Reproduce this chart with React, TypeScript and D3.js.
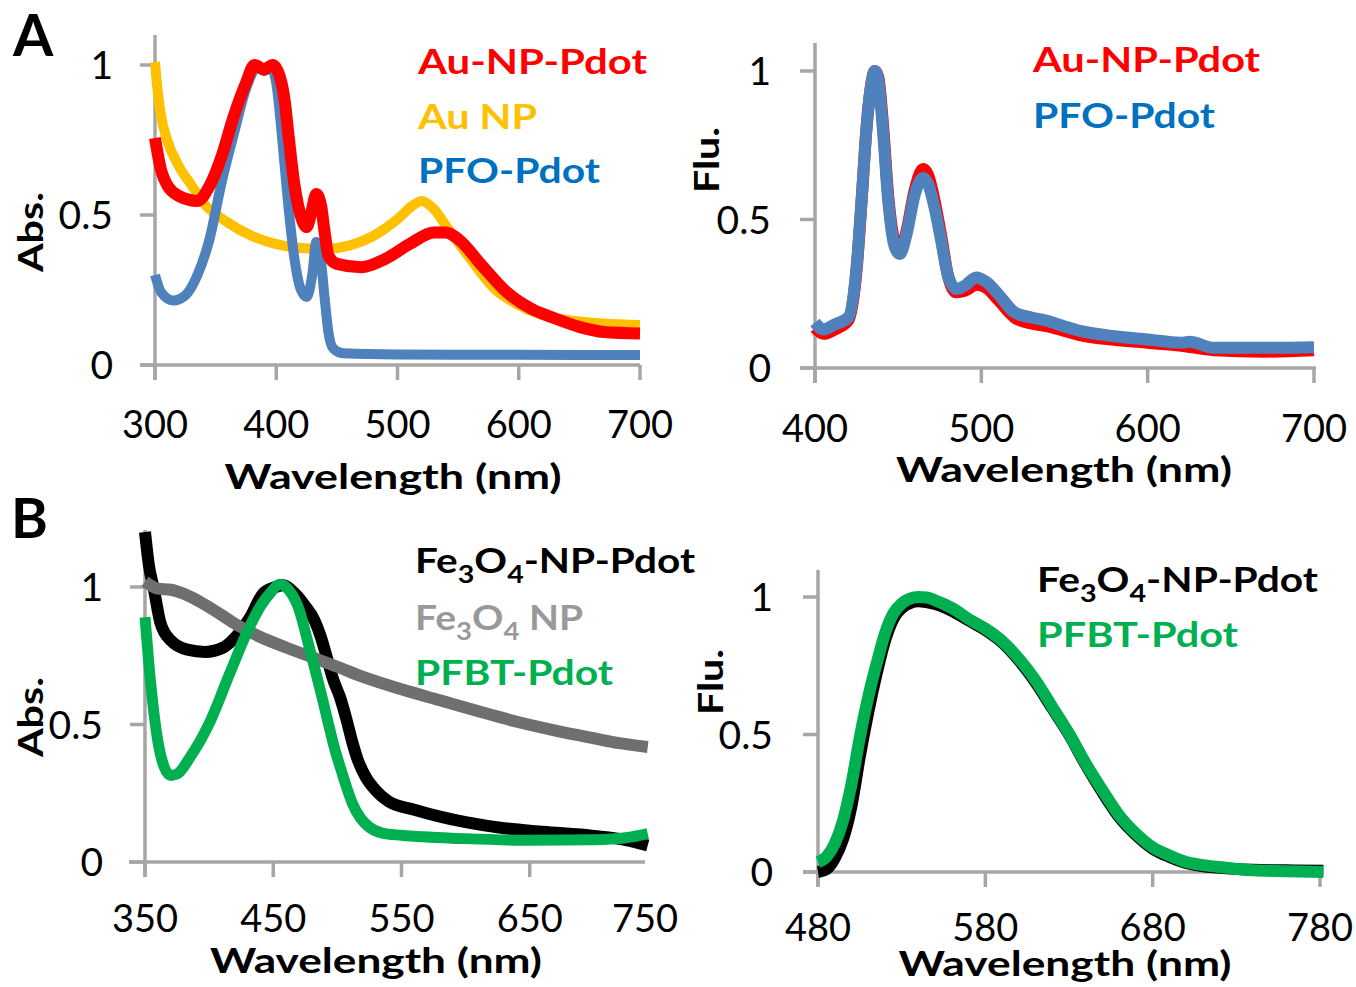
import React from 'react';
import * as d3 from 'd3';

type Pt = [number, number];

// ---- Panel A, absorbance ----
const auPdotAbs: Pt[] = [
  [300, 0.757], [305, 0.65], [310, 0.6], [320, 0.563], [335, 0.547], [345, 0.597], [355, 0.696],
  [365, 0.83], [375, 0.94], [382, 1.0], [390, 0.985], [397, 1.0], [403, 0.96], [407, 0.88],
  [410, 0.77], [415, 0.6], [420, 0.5], [425, 0.46], [429, 0.51], [433, 0.57], [437, 0.53],
  [440, 0.44], [443, 0.365], [450, 0.337], [470, 0.326], [490, 0.354], [510, 0.403], [530, 0.442],
  [540, 0.442], [550, 0.42], [570, 0.33], [590, 0.243], [610, 0.188], [630, 0.155], [650, 0.127],
  [670, 0.11], [700, 0.105],
];
const auNpAbs: Pt[] = [
  [300, 1.01], [302, 0.92], [305, 0.83], [310, 0.75], [320, 0.66], [330, 0.6], [340, 0.54],
  [360, 0.475], [380, 0.43], [400, 0.403], [420, 0.39], [440, 0.387], [460, 0.398], [480, 0.43],
  [500, 0.486], [512, 0.53], [520, 0.547], [530, 0.52], [540, 0.464], [560, 0.354], [580, 0.254],
  [600, 0.2], [620, 0.166], [640, 0.15], [670, 0.138], [700, 0.133],
];
const pfoAbs: Pt[] = [
  [300, 0.3], [305, 0.243], [315, 0.215], [325, 0.232], [335, 0.3], [345, 0.42], [355, 0.61],
  [365, 0.77], [375, 0.92], [385, 0.995], [390, 0.98], [395, 0.995], [400, 0.94], [405, 0.75],
  [410, 0.53], [415, 0.354], [420, 0.254], [425, 0.227], [430, 0.31], [433, 0.41], [436, 0.376],
  [440, 0.22], [443, 0.11], [447, 0.055], [455, 0.039], [500, 0.035], [600, 0.034], [700, 0.033],
];

// ---- Panel A, fluorescence ----
const auPdotFlu: Pt[] = [
  [400, 0.135], [405, 0.115], [412, 0.13], [420, 0.16], [425, 0.33], [428, 0.56], [431, 0.81],
  [434, 0.96], [436, 1.0], [438, 0.98], [441, 0.81], [444, 0.58], [448, 0.42], [451, 0.39],
  [455, 0.46], [460, 0.6], [465, 0.67], [468, 0.65], [472, 0.56], [476, 0.44], [480, 0.31],
  [485, 0.255], [490, 0.26], [497, 0.28], [503, 0.27], [510, 0.23], [520, 0.17], [530, 0.15],
  [540, 0.14], [550, 0.125], [560, 0.11], [580, 0.095], [600, 0.085], [620, 0.075], [640, 0.06],
  [670, 0.055], [700, 0.06],
];
const pfoFlu: Pt[] = [
  [400, 0.153], [405, 0.13], [412, 0.147], [420, 0.17], [425, 0.34], [428, 0.565], [431, 0.81],
  [434, 0.96], [436, 1.0], [438, 0.97], [441, 0.79], [444, 0.565], [448, 0.407], [451, 0.384],
  [455, 0.45], [460, 0.585], [465, 0.64], [468, 0.62], [472, 0.537], [476, 0.424], [480, 0.31],
  [485, 0.266], [490, 0.277], [497, 0.305], [503, 0.29], [510, 0.25], [520, 0.187], [530, 0.17],
  [540, 0.158], [550, 0.14], [560, 0.124], [580, 0.107], [600, 0.096], [620, 0.085], [625, 0.088],
  [640, 0.068], [670, 0.068], [700, 0.07],
];

// ---- Panel B, absorbance ----
const fePdotAbs: Pt[] = [
  [350, 1.2], [353, 1.08], [357, 0.99], [362, 0.87], [370, 0.806], [383, 0.772], [397, 0.764],
  [411, 0.78], [421, 0.82], [432, 0.89], [442, 0.976], [452, 1.0], [458, 1.006], [466, 0.98],
  [475, 0.93], [482, 0.88], [487, 0.82], [492, 0.74], [497, 0.66], [502, 0.6], [507, 0.52],
  [512, 0.43], [516, 0.37], [522, 0.31], [530, 0.26], [540, 0.22], [560, 0.19], [580, 0.165],
  [600, 0.145], [630, 0.123], [660, 0.11], [700, 0.095], [725, 0.08], [742, 0.06],
];
const feNpAbs: Pt[] = [
  [350, 1.02], [360, 0.994], [370, 0.99], [380, 0.976], [400, 0.927], [420, 0.867], [440, 0.818],
  [460, 0.78], [480, 0.745], [500, 0.71], [520, 0.673], [550, 0.628], [580, 0.588], [610, 0.548],
  [640, 0.51], [670, 0.478], [700, 0.45], [720, 0.432], [742, 0.418],
];
const pfbtAbs: Pt[] = [
  [350, 0.89], [353, 0.72], [356, 0.58], [360, 0.44], [365, 0.345], [370, 0.315], [375, 0.32],
  [385, 0.38], [400, 0.503], [415, 0.673], [430, 0.84], [440, 0.93], [448, 0.98], [455, 1.01],
  [462, 0.99], [470, 0.92], [477, 0.8], [482, 0.71], [488, 0.6], [493, 0.503], [498, 0.41],
  [503, 0.333], [508, 0.26], [512, 0.21], [518, 0.16], [524, 0.13], [535, 0.105], [550, 0.097],
  [600, 0.085], [650, 0.079], [700, 0.081], [725, 0.088], [742, 0.103],
];

// ---- Panel B, fluorescence ----
const fePdotFlu: Pt[] = [
  [480, 0.0], [485, 0.01], [490, 0.05], [495, 0.12], [500, 0.24], [505, 0.42], [510, 0.58],
  [515, 0.72], [520, 0.84], [525, 0.92], [530, 0.96], [540, 0.985], [550, 0.975], [560, 0.95],
  [570, 0.915], [580, 0.88], [590, 0.835], [600, 0.77], [610, 0.69], [620, 0.595], [630, 0.5],
  [640, 0.39], [650, 0.29], [660, 0.2], [670, 0.135], [680, 0.085], [690, 0.055], [700, 0.033],
  [720, 0.015], [740, 0.008], [760, 0.006], [782, 0.005],
];
const pfbtFlu: Pt[] = [
  [480, 0.036], [485, 0.055], [490, 0.103], [495, 0.188], [500, 0.32], [505, 0.49], [510, 0.636],
  [515, 0.757], [520, 0.867], [525, 0.94], [530, 0.976], [535, 0.994], [540, 1.0], [545, 0.998],
  [550, 0.988], [560, 0.96], [570, 0.92], [580, 0.885], [590, 0.84], [600, 0.776], [610, 0.697],
  [620, 0.6], [630, 0.503], [640, 0.394], [650, 0.297], [660, 0.206], [670, 0.14], [680, 0.09],
  [690, 0.06], [700, 0.036], [720, 0.018], [740, 0.006], [760, 0.003], [782, 0.0],
];

const yTicks = [0, 0.5, 1];
const yTickLabels = ['0', '0.5', '1'];
const ticksA1 = [300, 400, 500, 600, 700];
const ticksA2 = [400, 500, 600, 700];
const ticksB1 = [350, 450, 550, 650, 750];
const ticksB2 = [480, 580, 680, 780];

const AXIS = '#a6a6a6';
const FONT = 'Lato, "Open Sans", sans-serif';

type Series = { data: Pt[]; color: string; width: number };
type LegendItem = { label: React.ReactNode; color: string; x: number; y: number; len: number };

type PanelProps = {
  xDomain: [number, number];
  xRange: [number, number];
  yZero: number;
  yOne: number;
  xAxisFrom: number;
  xAxisTo: number;
  yAxisTop: number;
  xTicks: number[];
  tickLabelBase: number;
  yLabelRight: number;
  titleX: number;
  titleBase: number;
  titleLen: number;
  yTitle: string;
  yTitleX: number;
  yTitleY: number;
  yTitleLen: number;
  series: Series[];
  legend: LegendItem[];
};

const feLabel = (rest: string) => (
  <>
    Fe<tspan fontSize="24" dy="10">3</tspan><tspan dy="-10">O</tspan>
    <tspan fontSize="24" dy="10">4</tspan><tspan dy="-10">{rest}</tspan>
  </>
);

function Panel(p: PanelProps) {
  const x = d3.scaleLinear().domain(p.xDomain).range(p.xRange);
  const y = d3.scaleLinear().domain([0, 1]).range([p.yZero, p.yOne]);
  const line = d3
    .line<Pt>()
    .x((d) => x(d[0]))
    .y((d) => y(d[1]))
    .curve(d3.curveMonotoneX);
  const x0 = p.xRange[0];
  return (
    <g>
      {/* axes */}
      <line x1={p.xAxisFrom} x2={p.xAxisTo} y1={p.yZero} y2={p.yZero} stroke={AXIS} strokeWidth={3.5} />
      <line x1={x0} x2={x0} y1={p.yAxisTop} y2={p.yZero + 15} stroke={AXIS} strokeWidth={3.5} />
      {p.xTicks.map((t) =>
        x(t) <= p.xAxisTo + 1 ? (
          <line key={t} x1={x(t)} x2={x(t)} y1={p.yZero} y2={p.yZero + 15} stroke={AXIS} strokeWidth={3.5} />
        ) : null
      )}
      {yTicks.map((t) => (
        <line key={t} x1={x0 - 15} x2={x0} y1={y(t)} y2={y(t)} stroke={AXIS} strokeWidth={3.5} />
      ))}
      {p.xTicks.map((t) => (
        <text
          key={t}
          x={Math.min(x(t), p.xAxisTo)}
          y={p.tickLabelBase}
          textAnchor="middle"
          fontFamily={FONT}
          fontSize={38}
          fill="#000"
        >
          {t}
        </text>
      ))}
      {yTicks.map((t, i) => (
        <text
          key={t}
          x={p.yLabelRight}
          y={y(t) + 14}
          textAnchor="end"
          fontFamily={FONT}
          fontSize={39}
          fill="#000"
        >
          {yTickLabels[i]}
        </text>
      ))}
      {/* curves */}
      {p.series.map((s, i) => (
        <path
          key={i}
          d={line(s.data) || ''}
          fill="none"
          stroke={s.color}
          strokeWidth={s.width}
          strokeLinejoin="round"
        />
      ))}
      {/* titles */}
      <text
        x={p.titleX}
        y={p.titleBase}
        textAnchor="middle"
        fontFamily={FONT}
        fontWeight="bold"
        fontSize={34}
        textLength={p.titleLen}
        lengthAdjust="spacingAndGlyphs"
      >
        Wavelength (nm)
      </text>
      <text
        transform={`translate(${p.yTitleX},${p.yTitleY}) rotate(-90)`}
        textAnchor="middle"
        fontFamily={FONT}
        fontWeight="bold"
        fontSize={34}
        textLength={p.yTitleLen}
        lengthAdjust="spacingAndGlyphs"
      >
        {p.yTitle}
      </text>
      {p.legend.map((l, i) => (
        <text
          key={i}
          x={l.x}
          y={l.y}
          fill={l.color}
          fontFamily={FONT}
          fontWeight="bold"
          fontSize={34}
          textLength={l.len}
          lengthAdjust="spacingAndGlyphs"
        >
          {l.label}
        </text>
      ))}
    </g>
  );
}

export default function App() {
  return (
    <svg
      width={1356}
      height={987}
      style={{ position: 'absolute', left: 0, top: 0, background: '#fff' }}
    >
      <text x={13} y={56} fontFamily={FONT} fontWeight="bold" fontSize={58}>A</text>
      <text x={11} y={538} fontFamily={FONT} fontWeight="bold" fontSize={56}>B</text>

      <Panel
        xDomain={[300, 700]}
        xRange={[155, 640]}
        yZero={365}
        yOne={65}
        xAxisFrom={140}
        xAxisTo={640}
        yAxisTop={35}
        xTicks={ticksA1}
        tickLabelBase={438}
        yLabelRight={113}
        titleX={393}
        titleBase={489}
        titleLen={337}
        yTitle="Abs."
        yTitleX={43}
        yTitleY={232}
        yTitleLen={80}
        series={[
          { data: auNpAbs, color: '#ffc000', width: 10 },
          { data: pfoAbs, color: '#4f81bd', width: 10 },
          { data: auPdotAbs, color: '#ff0000', width: 12 },
        ]}
        legend={[
          { label: 'Au-NP-Pdot', color: '#ff0000', x: 418, y: 74, len: 229 },
          { label: 'Au NP', color: '#ffc000', x: 418, y: 129, len: 119 },
          { label: 'PFO-Pdot', color: '#0070c0', x: 418, y: 183, len: 182 },
        ]}
      />

      <Panel
        xDomain={[400, 700]}
        xRange={[815, 1314]}
        yZero={368}
        yOne={71}
        xAxisFrom={801}
        xAxisTo={1316}
        yAxisTop={43}
        xTicks={ticksA2}
        tickLabelBase={442}
        yLabelRight={771}
        titleX={1064}
        titleBase={482}
        titleLen={336}
        yTitle="Flu."
        yTitleX={719}
        yTitleY={160}
        yTitleLen={66}
        series={[
          { data: auPdotFlu, color: '#ff0000', width: 12 },
          { data: pfoFlu, color: '#4f81bd', width: 12 },
        ]}
        legend={[
          { label: 'Au-NP-Pdot', color: '#ff0000', x: 1033, y: 72, len: 227 },
          { label: 'PFO-Pdot', color: '#0070c0', x: 1033, y: 128, len: 182 },
        ]}
      />

      <Panel
        xDomain={[350, 750]}
        xRange={[145, 658]}
        yZero={862}
        yOne={587}
        xAxisFrom={129}
        xAxisTo={645}
        yAxisTop={530}
        xTicks={ticksB1}
        tickLabelBase={932}
        yLabelRight={103}
        titleX={376}
        titleBase={973}
        titleLen={332}
        yTitle="Abs."
        yTitleX={43}
        yTitleY={717}
        yTitleLen={80}
        series={[
          { data: fePdotAbs, color: '#000000', width: 12 },
          { data: feNpAbs, color: '#6f6f6f', width: 12 },
          { data: pfbtAbs, color: '#00b050', width: 11 },
        ]}
        legend={[
          { label: feLabel('-NP-Pdot'), color: '#000000', x: 415, y: 573, len: 280 },
          { label: feLabel(' NP'), color: '#999999', x: 415, y: 630, len: 168 },
          { label: 'PFBT-Pdot', color: '#00b050', x: 415, y: 685, len: 198 },
        ]}
      />

      <Panel
        xDomain={[480, 780]}
        xRange={[818, 1320]}
        yZero={872}
        yOne={597}
        xAxisFrom={803}
        xAxisTo={1320}
        yAxisTop={570}
        xTicks={ticksB2}
        tickLabelBase={941}
        yLabelRight={773}
        titleX={1065}
        titleBase={976}
        titleLen={333}
        yTitle="Flu."
        yTitleX={723}
        yTitleY={682}
        yTitleLen={66}
        series={[
          { data: fePdotFlu, color: '#000000', width: 12 },
          { data: pfbtFlu, color: '#00b050', width: 12 },
        ]}
        legend={[
          { label: feLabel('-NP-Pdot'), color: '#000000', x: 1037, y: 592, len: 281 },
          { label: 'PFBT-Pdot', color: '#00b050', x: 1037, y: 647, len: 201 },
        ]}
      />
    </svg>
  );
}
